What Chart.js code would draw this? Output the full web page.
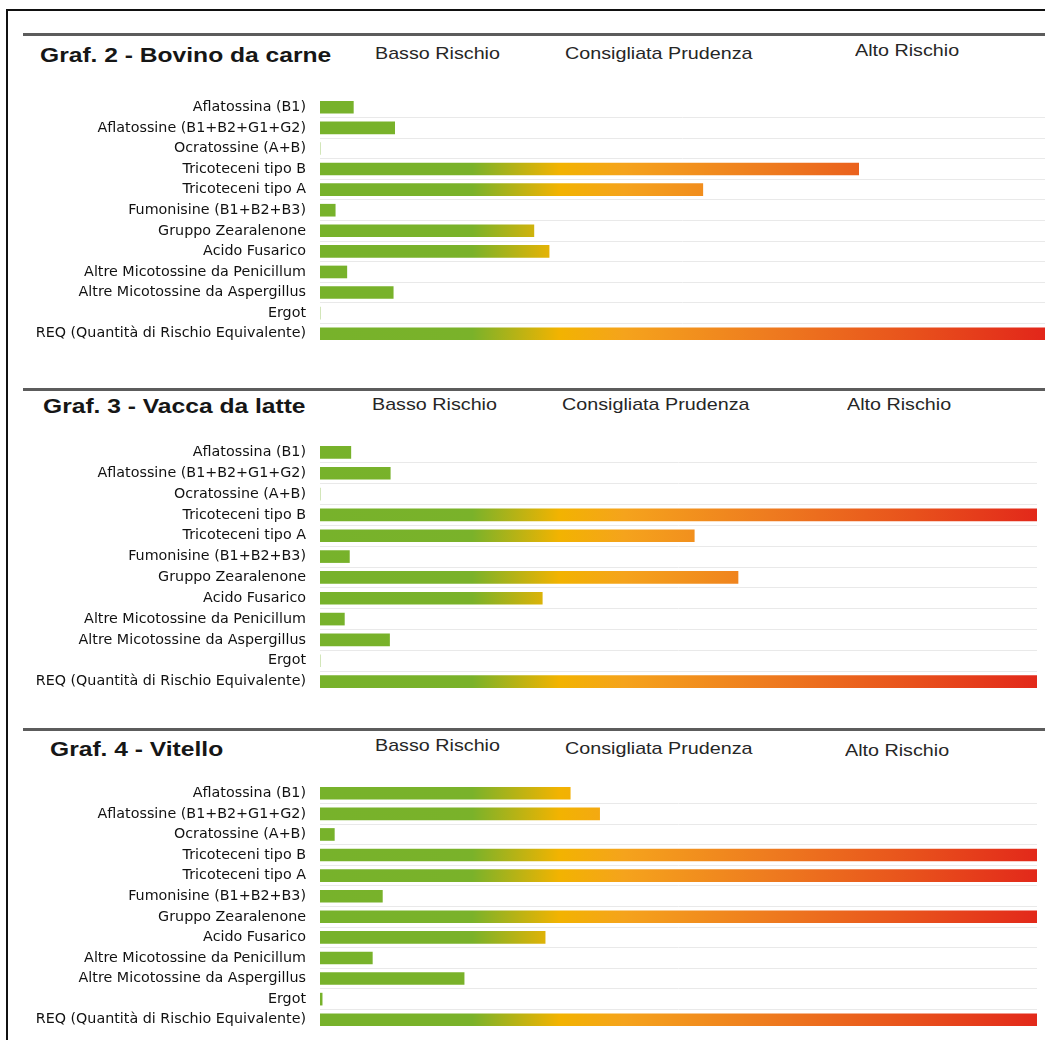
<!DOCTYPE html>
<html>
<head>
<meta charset="utf-8">
<script src="https://cdn.jsdelivr.net/npm/chart.js@4/dist/chart.umd.min.js"></script>
<style>
  body { margin: 0; background: #fff; font-family: "Liberation Sans", Arial, sans-serif; }
  #page { position: relative; width: 1045px; height: 1040px; overflow: hidden; }
  .frame-top { position: absolute; left: 6px; top: 9px; width: 1039px; height: 2px; background: #111; }
  .frame-left { position: absolute; left: 6px; top: 9px; width: 2px; height: 1031px; background: #111; }
  .sep { position: absolute; left: 23px; right: 0; height: 3px; background: #5c5c5c; }
  .title { position: absolute; font-weight: bold; font-size: 20px; color: #161616; white-space: nowrap; transform: scaleX(1.23); transform-origin: 0 0; }
  .risk { position: absolute; font-size: 17px; color: #262626; white-space: nowrap; transform: scaleX(1.16); transform-origin: 0 0; }
  canvas { position: absolute; left: 0; }
</style>
</head>
<body>
<div id="page">
  <div class="frame-top"></div>
  <div class="frame-left"></div>
</div>
<script>
const categories = [
  'Aflatossina (B1)',
  'Aflatossine (B1+B2+G1+G2)',
  'Ocratossine (A+B)',
  'Tricoteceni tipo B',
  'Tricoteceni tipo A',
  'Fumonisine (B1+B2+B3)',
  'Gruppo Zearalenone',
  'Acido Fusarico',
  'Altre Micotossine da Penicillum',
  'Altre Micotossine da Aspergillus',
  'Ergot',
  'REQ (Quantità di Rischio Equivalente)'
];
const riskLabels = ['Basso Rischio', 'Consigliata Prudenza', 'Alto Rischio'];
const chartTitles = ['Graf. 2 - Bovino da carne', 'Graf. 3 - Vacca da latte', 'Graf. 4 - Vitello'];
const bovinoValues = [4.6, 10.3, 0, 74.3, 52.8, 2.1, 29.5, 31.6, 3.7, 10.1, 0, 100];
const vaccaValues = [4.3, 9.8, 0, 100, 52.2, 4.1, 58.3, 31.0, 3.4, 9.7, 0, 100];
const vitelloValues = [34.9, 39.0, 2.0, 100, 100, 8.7, 100, 31.4, 7.3, 20.1, 0.3, 100];

// where each panel sits on the page
const panels = [
  { values: bovinoValues, sep: 33, titleX: 40, titleY: 44, riskX: [375, 565, 855], riskY: [44, 44, 41], top: 97, height: 247, width: 1045 },
  { values: vaccaValues, sep: 388, titleX: 43, titleY: 395, riskX: [372, 562, 847], riskY: [395, 395, 395], top: 442, height: 250, width: 1037 },
  { values: vitelloValues, sep: 728, titleX: 50, titleY: 738, riskX: [375, 565, 845], riskY: [736, 739, 741], top: 783, height: 247, width: 1037 }
];

const page = document.getElementById('page');

const addText = (cls, text, x, y) => {
  let el = document.createElement('div');
  el.className = cls;
  el.textContent = text;
  el.style.left = x + 'px';
  el.style.top = y + 'px';
  page.appendChild(el);
}

const riskGradient = (ctx) => {
  let chart = ctx.chart;
  let a = chart.chartArea;
  if (!a) return '#78b22c';
  let g = chart.ctx.createLinearGradient(a.left, 0, a.left + 725, 0);
  g.addColorStop(0, '#77b22b');
  g.addColorStop(0.21, '#7ab22a');
  g.addColorStop(0.33, '#f2b301');
  g.addColorStop(0.42, '#f5a31c');
  g.addColorStop(0.62, '#ee7b1f');
  g.addColorStop(0.82, '#e8511c');
  g.addColorStop(1, '#e2261a');
  return g;
}

const drawPanel = (p, i) => {
  let sep = document.createElement('div');
  sep.className = 'sep';
  sep.style.top = p.sep + 'px';
  page.appendChild(sep);

  addText('title', chartTitles[i], p.titleX, p.titleY);
  riskLabels.forEach((r, k) => addText('risk', r, p.riskX[k], p.riskY[k]));

  let canvas = document.createElement('canvas');
  canvas.width = p.width;
  canvas.height = p.height;
  canvas.style.top = p.top + 'px';
  page.appendChild(canvas);

  new Chart(canvas.getContext('2d'), {
    type: 'bar',
    data: {
      labels: categories,
      datasets: [{
        data: p.values,
        backgroundColor: riskGradient,
        barThickness: 12,
        borderWidth: 0
      }]
    },
    options: {
      indexAxis: 'y',
      responsive: false,
      animation: false,
      layout: { padding: 0 },
      plugins: { legend: { display: false }, tooltip: { enabled: false } },
      scales: {
        x: { display: false, min: 0, max: 100 },
        y: {
          afterFit: (axis) => {
            axis.width = 320;
            axis.paddingTop = 0;
            axis.paddingBottom = 0;
          },
          border: { display: false },
          grid: {
            offset: true,
            drawTicks: false,
            lineWidth: 1,
            color: (c) => (c.index === 0 || c.index === categories.length) ? 'rgba(0,0,0,0)' : '#e9e9e9'
          },
          ticks: {
            color: '#111',
            padding: 14,
            font: { family: '"DejaVu Sans", sans-serif', size: 14.3 }
          }
        }
      }
    }
  });
}

panels.forEach(drawPanel);
</script>
</body>
</html>
